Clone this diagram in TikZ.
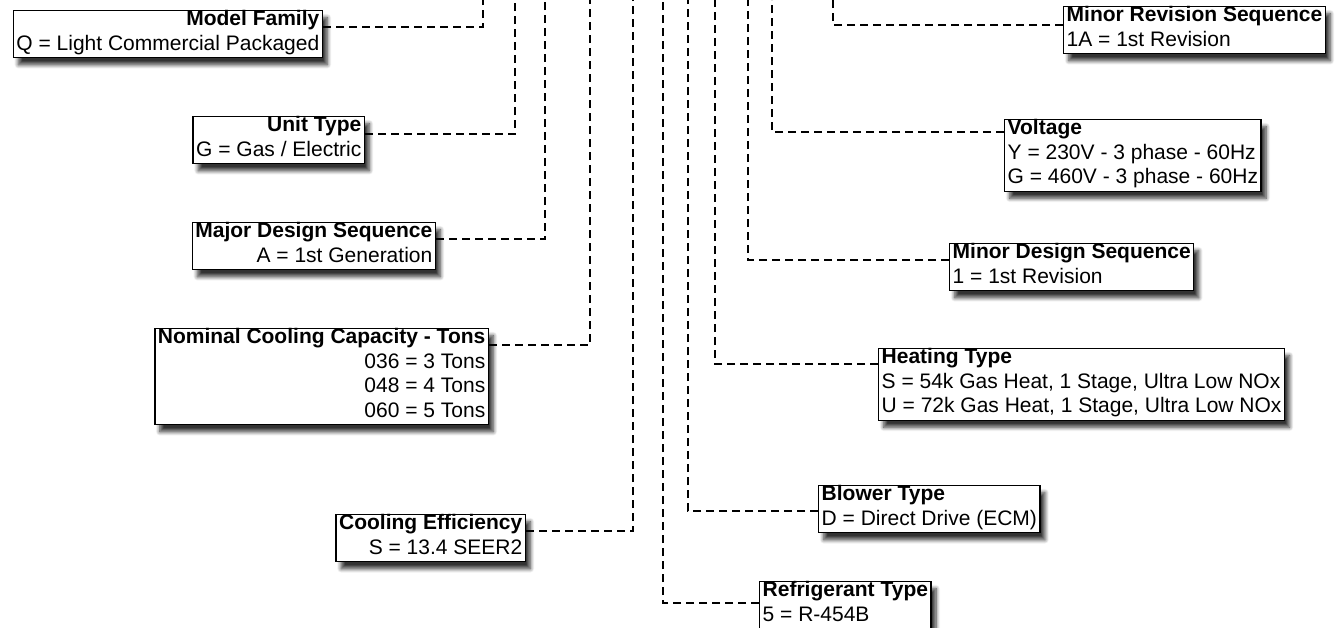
\documentclass[tikz,border=0pt]{standalone}
\usepackage{fontspec}
\setmainfont{Liberation Sans}
\usetikzlibrary{shadows.blur}

\begin{document}
\begin{tikzpicture}[
    x=1pt, y=-1pt,
    codebox/.style={draw, fill=white, line width=1.4pt, inner xsep=3pt, inner ysep=0pt,
        font=\fontsize{21}{24.5}\selectfont, execute at begin node=\strut, execute at end node=\strut,
        blur shadow={shadow xshift=5pt, shadow yshift=-7pt, shadow blur radius=4pt, shadow blur steps=8, shadow opacity=80}},
    lbox/.style={codebox, anchor=north east, align=right},
    rbox/.style={codebox, anchor=north west, align=left},
    leader/.style={line width=2.6pt, dash pattern=on 8pt off 5pt}
]
\useasboundingbox (0,0) rectangle (1343,627);

% left side
\node[lbox] (mfam) at (323,10) {\textbf{Model Family}\\Q = Light Commercial Packaged};
\node[lbox] (utype) at (365,116) {\textbf{Unit Type}\\G = Gas / Electric};
\node[lbox] (majdes) at (436,222) {\textbf{Major Design Sequence}\\A = 1st Generation};
\node[lbox] (nomcap) at (489,328) {\textbf{Nominal Cooling Capacity - Tons}\\036 = 3 Tons\\048 = 4 Tons\\060 = 5 Tons};
\node[lbox] (cooleff) at (526,514) {\textbf{Cooling Efficiency}\\S = 13.4 SEER2};

% right side
\node[rbox] (minrev) at (1063,6) {\textbf{Minor Revision Sequence}\\1A = 1st Revision};
\node[rbox] (volt) at (1004,119) {\textbf{Voltage}\\Y = 230V - 3 phase - 60Hz\\G = 460V - 3 phase - 60Hz};
\node[rbox] (mindes) at (949,243) {\textbf{Minor Design Sequence}\\1 = 1st Revision};
\node[rbox] (heattype) at (878,348) {\textbf{Heating Type}\\S = 54k Gas Heat, 1 Stage, Ultra Low NOx\\U = 72k Gas Heat, 1 Stage, Ultra Low NOx};
\node[rbox] (blower) at (818,485) {\textbf{Blower Type}\\D = Direct Drive (ECM)};
\node[rbox] (refrig) at (759,581) {\textbf{Refrigerant Type}\\5 = R-454B};

% ends of the leaders at the top edge
\coordinate (mfamtop) at (483,0);
\coordinate (utypetop) at (515,0);
\coordinate (majdestop) at (545,0);
\coordinate (nomcaptop) at (590,0);
\coordinate (coolefftop) at (633,0);
\coordinate (refrigtop) at (663,0);
\coordinate (blowertop) at (688,0);
\coordinate (heattypetop) at (715,0);
\coordinate (mindestop) at (748,0);
\coordinate (volttop) at (772,0);
\coordinate (minrevtop) at (833,0);

\draw[leader] ([yshift=-17pt]mfam.north east) -| (mfamtop);
\draw[leader] ([yshift=-18pt]utype.north east) -| (utypetop);
\draw[leader] ([yshift=-17pt]majdes.north east) -| (majdestop);
\draw[leader] ([yshift=-17pt]nomcap.north east) -| (nomcaptop);
\draw[leader] ([yshift=-17pt]cooleff.north east) -| (coolefftop);
\draw[leader] ([yshift=-22pt]refrig.north west) -| (refrigtop);
\draw[leader] ([yshift=-26pt]blower.north west) -| (blowertop);
\draw[leader] ([yshift=-16pt]heattype.north west) -| (heattypetop);
\draw[leader] ([yshift=-17pt]mindes.north west) -| (mindestop);
\draw[leader] ([yshift=-13pt]volt.north west) -| (volttop);
\draw[leader] ([yshift=-19pt]minrev.north west) -| (minrevtop);
\end{tikzpicture}
\end{document}
